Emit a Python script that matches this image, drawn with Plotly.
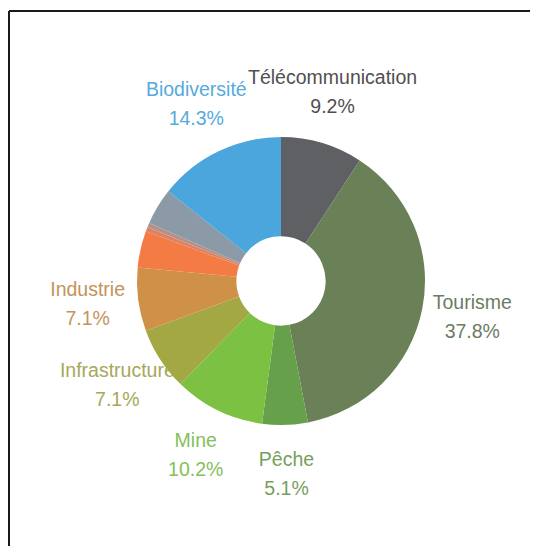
import math
import plotly.graph_objects as go

# ---- data ----
categories = ["Télécommunication", "Tourisme", "Pêche", "Mine", "Infrastructure",
              "Industrie", "Autre A", "Autre B", "Autre C", "Autre D", "Biodiversité"]
values = [9.2, 37.8, 5.1, 10.2, 7.1, 7.1, 4.1, 0.5, 0.5, 4.1, 14.3]
show_label = [True, True, True, True, True, True, False, False, False, False, True]
pct_labels = ["9.2%", "37.8%", "5.1%", "10.2%", "7.1%", "7.1%", "", "", "", "", "14.3%"]

# ---- styles ----
slice_colors = ["#5e6064", "#6a8157", "#66a04a", "#7dc143", "#a3a845", "#cf9148",
                "#f47b43", "#dd8260", "#b7908a", "#8b9aa6", "#4aa6dc"]
text_colors = ["#505050", "#6c7b63", "#76a05c", "#86c05a", "#a6a75b", "#c4935a",
               "", "", "", "", "#56aadc"]
label_dx = {"Télécommunication": -4}

# page body has an 8px margin, so the figure is offset by 8px
W, H = 530, 538
cx, cy, R = 273, 273, 144
R_LABEL = 195
HALF_GAP = 14.5

fig = go.Figure()

# label text (drawn beneath the pie, which sits on the pie layer)
tx, ty, tt, tc = [], [], [], []
total = sum(values)
acc = 0.0
for cat, v, show, pct, col in zip(categories, values, show_label, pct_labels, text_colors):
    mid = (acc + v / 2) / total * 2 * math.pi
    acc += v
    if not show:
        continue
    x = cx + R_LABEL * math.sin(mid) + label_dx.get(cat, 0)
    y = cy - R_LABEL * math.cos(mid)
    tx += [x, x]
    ty += [y - HALF_GAP, y + HALF_GAP]
    tt += [cat, pct]
    tc += [col, col]

fig.add_trace(go.Scatter(
    x=tx, y=ty, text=tt, mode="text", textposition="middle center",
    textfont=dict(family="Liberation Sans, Arial, sans-serif", size=19.5, color=tc),
    hoverinfo="skip", showlegend=False,
))

fig.add_trace(go.Pie(
    labels=categories, values=values, sort=False, direction="clockwise",
    rotation=0, hole=0.31, textinfo="none",
    marker=dict(colors=slice_colors, line=dict(width=0)),
    domain=dict(x=[(cx - R) / W, (cx + R) / W],
                y=[(H - cy - R) / H, (H - cy + R) / H]),
    showlegend=False,
))

fig.update_layout(
    width=W, height=H, margin=dict(l=0, r=0, t=0, b=0),
    paper_bgcolor="white", plot_bgcolor="rgba(0,0,0,0)",
    xaxis=dict(range=[0, W], visible=False, fixedrange=True),
    yaxis=dict(range=[H, 0], visible=False, fixedrange=True),
    shapes=[
        dict(type="line", xref="paper", yref="paper", x0=1 / W, x1=1, y0=1 - 3 / H, y1=1 - 3 / H,
             line=dict(color="#1a1a1a", width=2)),
        dict(type="line", xref="paper", yref="paper", x0=1 / W, x1=1 / W, y0=0, y1=1 - 3 / H,
             line=dict(color="#1a1a1a", width=2)),
    ],
)

fig.write_html("out.html", config={"displayModeBar": False})
